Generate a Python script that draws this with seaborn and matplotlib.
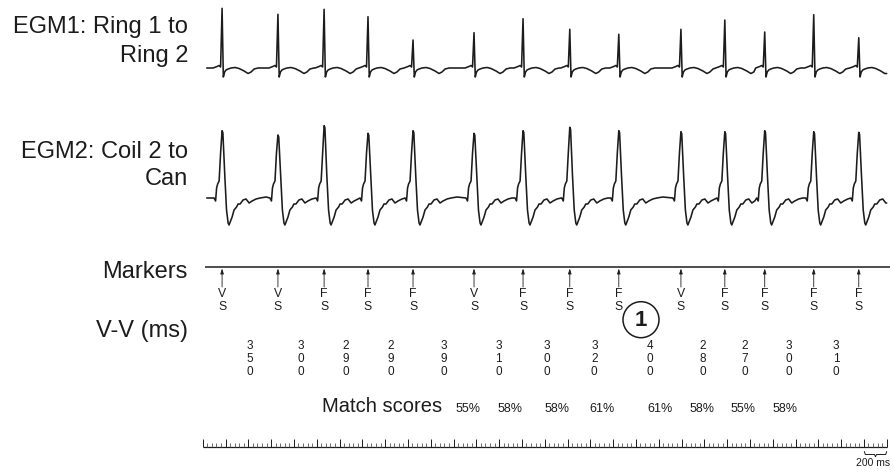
import numpy as np
import pandas as pd
import matplotlib
matplotlib.use("Agg")
import matplotlib.pyplot as plt
import seaborn as sns
from matplotlib.patches import Ellipse

# ---------------- data ----------------
beat_ms = [170, 660, 1065, 1450, 1845, 2380, 2810, 3220, 3650, 4195, 4580, 4930, 5360, 5755]
marker_top = ["V", "V", "F", "F", "F", "V", "F", "F", "F", "V", "F", "F", "F", "F"]
marker_bottom = ["S", "S", "S", "S", "S", "S", "S", "S", "S", "S", "S", "S", "S", "S"]
vv_ms = [350, 300, 290, 290, 390, 310, 300, 320, 400, 280, 270, 300, 310]
match_scores = [55, 58, 58, 61, 61, 58, 55, 58]
# peak heights of each complex (screen units above the channel baseline)
egm1_amp = [59.7, 53.7, 58.7, 51.3, 28.0, 35.3, 49.3, 38.7, 33.7, 38.7, 48.0, 36.0, 53.3, 30.3]
egm2_amp = [67.3, 63.0, 72.3, 64.7, 67.3, 64.7, 67.3, 70.7, 67.3, 66.3, 66.3, 67.3, 66.3, 65.7]
# complex shapes (ms offset from the peak, deflection; + = downward)
egm1_pre = [(-79, 0), (-44, -1.5), (-26, -2.5), (-13, -1)]
egm1_post = [(11, 9), (22, 4), (35, 2), (53, 1), (79, 0), (114, -0.5), (149, 0.5),
             (193, 3), (228, 5.5), (254, 4), (281, 1), (316, 0), (351, 0)]
egm2_pre = [(-70, 0), (-57, 3), (-48, -10), (-39, -14), (-26, -17), (-13, -45)]
egm2_post = [(24, -22), (39, 12), (53, 25), (61, 27), (88, 19), (105, 12), (127, 9),
             (140, 6), (158, 6), (184, 2), (210, 1), (237, 5), (263, 3), (298, 1),
             (333, 0), (386, -1)]
trace_start_ms, trace_end_ms = 35, 6000
left_labels = [("EGM1: Ring 1 to", 33), ("Ring 2", 62), ("EGM2: Coil 2 to", 158),
               ("Can", 185), ("Markers", 278), ("V-V (ms)", 337)]

# ---------------- layout helpers ----------------
X0, PX_PER_MS = 202.7, 684 / 6000


def px2ms(px):
    return (px - X0) / PX_PER_MS


def build_trace(beats, amps, pre, post, base, peak_hold=None):
    ts, ys = [trace_start_ms], [base]
    for i, (b, a) in enumerate(zip(beats, amps)):
        limit = beats[i + 1] + pre[0][0] if i + 1 < len(beats) else trace_end_ms
        for dt, dy in pre:
            if b + dt > ts[-1]:
                ts.append(b + dt); ys.append(base + dy)
        ts.append(b); ys.append(base - a)
        if peak_hold is not None:
            ts.append(b + peak_hold); ys.append(base - a + 2)
        for dt, dy in post:
            if b + dt < limit:
                ts.append(b + dt); ys.append(base + dy)
    if ts[-1] < trace_end_ms:
        ts.append(trace_end_ms); ys.append(ys[-1])
    return pd.DataFrame({"t": ts, "y": ys})


sns.set_theme(style="white")
plt.rcParams["font.family"] = ["Liberation Sans", "DejaVu Sans"]
INK = "#1c1c1c"

fig = plt.figure(figsize=(8.94, 4.72), dpi=100)
ax = fig.add_axes([0, 0, 1, 1])

# EGM traces
egm1 = build_trace(beat_ms, egm1_amp, egm1_pre, egm1_post, 68)
egm2 = build_trace(beat_ms, egm2_amp, egm2_pre, egm2_post, 198, peak_hold=7)
sns.lineplot(data=egm1, x="t", y="y", ax=ax, color=INK, lw=1.15, estimator=None, sort=False)
sns.lineplot(data=egm2, x="t", y="y", ax=ax, color=INK, lw=1.15, estimator=None, sort=False)
ax.set_xlim(px2ms(0), px2ms(894))
ax.set_ylim(472, 0)
ax.axis("off")

# Left labels
for txt, yb in left_labels:
    ax.text(px2ms(188), yb, txt, ha="right", va="baseline", fontsize=17, color=INK)

# Marker channel
ax.plot([px2ms(205), px2ms(890)], [267.3, 267.3], color=INK, lw=1.1, solid_capstyle="butt")
for b, top, bot in zip(beat_ms, marker_top, marker_bottom):
    ax.annotate("", xy=(b, 268.5), xytext=(b, 287),
                arrowprops=dict(arrowstyle="-|>,head_length=0.25,head_width=0.08",
                                color=INK, lw=0.6, shrinkA=0, shrinkB=0))
    ax.text(b, 294, top, ha="center", va="center", fontsize=8.8, color=INK)
    ax.text(b, 307.5, bot, ha="center", va="center", fontsize=8.8, color=INK)

# V-V intervals (stacked digits between beats)
for i, v in enumerate(vv_ms):
    xm = (beat_ms[i] + beat_ms[i + 1]) / 2
    for k, ch in enumerate(str(v)):
        ax.text(xm, 346 + 13 * k, ch, ha="center", va="center", fontsize=8.5, color=INK)

# Circled annotation
ax.add_patch(Ellipse((px2ms(641), 319.7), width=36 / PX_PER_MS, height=36,
                     fill=False, ec=INK, lw=1.1))
ax.text(px2ms(641), 320.5, "1", ha="center", va="center", fontsize=16,
        fontweight="bold", color=INK)

# Match scores
ax.text(px2ms(321.7), 412, "Match scores", ha="left", va="baseline", fontsize=14.5, color=INK)
score_px = [467.7, 510, 556.7, 601.7, 660, 701.7, 743.3, 785]
for sx, s in zip(score_px, match_scores):
    ax.text(px2ms(sx), 412, f"{s}%", ha="center", va="baseline", fontsize=9, color=INK)

# Time ruler
ax.plot([0, 6000], [447.3, 447.3], color=INK, lw=0.9, solid_capstyle="butt")
major = np.arange(0, 6001, 200)
minor = np.array([m for m in range(0, 6001, 40) if m % 200 != 0])
ax.vlines(major, 439.3, 447.3, color=INK, lw=0.7)
ax.vlines(minor, 442.5, 447.3, color="#555555", lw=0.6)
bx = [px2ms(864.3), px2ms(865.3), px2ms(874.5), px2ms(875.5), px2ms(876.5), px2ms(885.7), px2ms(886.7)]
by = [451.5, 454.5, 454.5, 456.8, 454.5, 454.5, 451.5]
ax.plot(bx, by, color=INK, lw=0.7)
ax.text(px2ms(873.3), 462.5, "200 ms", ha="center", va="center", fontsize=7.5, color=INK)

fig.savefig("out.png", dpi=100)
